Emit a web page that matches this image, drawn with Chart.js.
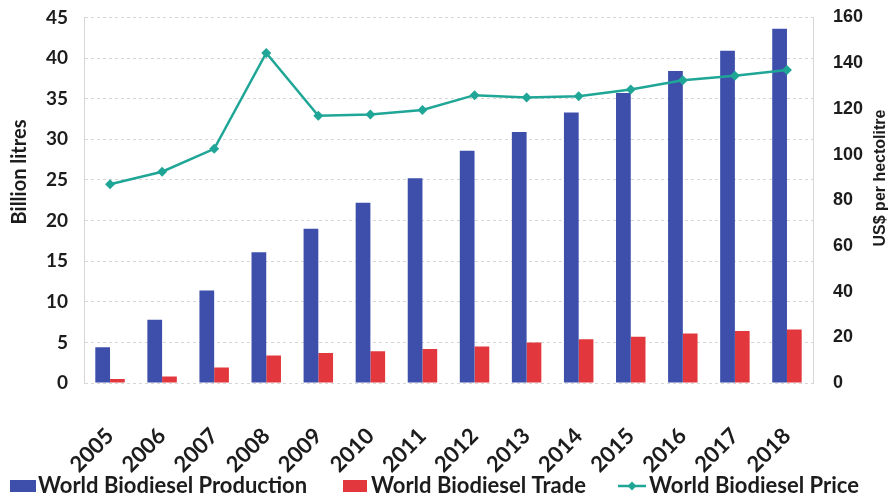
<!DOCTYPE html>
<html>
<head>
<meta charset="utf-8">
<script src="https://cdn.jsdelivr.net/npm/chart.js@4"></script>
<style>
  html, body { margin: 0; padding: 0; background: #ffffff; }
  #wrap { width: 893px; height: 501px; position: relative; }
</style>
</head>
<body>
<div id="wrap"><canvas id="chart"></canvas></div>
<script>
// Years on the category axis
const years = ['2005','2006','2007','2008','2009','2010','2011','2012','2013','2014','2015','2016','2017','2018'];
// World biodiesel production, billion litres
const production = [4.4, 7.8, 11.4, 16.1, 19.0, 22.2, 25.2, 28.6, 30.9, 33.3, 35.7, 38.4, 40.9, 43.6];
// World biodiesel trade, billion litres
const trade = [0.5, 0.8, 1.9, 3.4, 3.7, 3.9, 4.2, 4.5, 5.0, 5.4, 5.7, 6.1, 6.4, 6.6];
// World biodiesel price, US$ per hectolitre
const price = [87, 92.5, 102.5, 144.5, 117, 117.5, 119.5, 126, 125, 125.5, 128.5, 132.5, 134.5, 137];

const seriesNames = ['World Biodiesel Production', 'World Biodiesel Trade', 'World Biodiesel Price'];
const leftTitle = 'Billion litres';
const rightTitle = 'US$ per hectolitre';

const BLUE = '#3d4fab';
const RED = '#e2383d';
const TEAL = '#1fa696';
const TEXT = '#1c1c1c';
const GRID = '#d6d6d6';

// Axis titles (both read bottom-to-top) and the bottom legend
const decorations = {
  id: 'decorations',
  afterDraw(chart) {
    const ctx = chart.ctx;
    ctx.save();
    ctx.fillStyle = TEXT;
    ctx.textAlign = 'center';
    ctx.textBaseline = 'middle';

    ctx.save();
    ctx.translate(20, 172);
    ctx.rotate(-Math.PI / 2);
    ctx.font = 'bold 20px Lato';
    ctx.fillText(leftTitle, 0, 0);
    ctx.restore();

    ctx.save();
    ctx.translate(881, 178);
    ctx.rotate(-Math.PI / 2);
    ctx.font = 'bold 16px "Liberation Sans"';
    ctx.fillText(rightTitle, 0, 0);
    ctx.restore();

    // legend
    const base = 493;
    ctx.font = 'bold 22px Lato';
    ctx.textAlign = 'left';
    ctx.textBaseline = 'alphabetic';
    ctx.fillStyle = BLUE;
    ctx.fillRect(10, 480, 26, 12);
    ctx.fillStyle = TEXT;
    ctx.fillText(seriesNames[0], 38, base);

    ctx.fillStyle = RED;
    ctx.fillRect(343, 480, 24, 12);
    ctx.fillStyle = TEXT;
    ctx.fillText(seriesNames[1], 371, base);

    const ly = 486;
    ctx.strokeStyle = TEAL;
    ctx.lineWidth = 2.5;
    ctx.beginPath();
    ctx.moveTo(618, ly);
    ctx.lineTo(646, ly);
    ctx.stroke();
    ctx.fillStyle = TEAL;
    ctx.beginPath();
    ctx.moveTo(632, ly - 4.5);
    ctx.lineTo(636.5, ly);
    ctx.lineTo(632, ly + 4.5);
    ctx.lineTo(627.5, ly);
    ctx.closePath();
    ctx.fill();
    ctx.fillStyle = TEXT;
    ctx.fillText(seriesNames[2], 649, base);
    ctx.restore();
  }
};

// vertical axes: keep label overhang from pushing the plot area down
function fitVertical(width) {
  return function (s) {
    s.width = width;
    s.paddingTop = 0;
    s.paddingBottom = 0;
  };
}

new Chart(document.getElementById('chart'), {
  type: 'bar',
  data: {
    labels: years,
    datasets: [
      {
        label: seriesNames[0],
        data: production,
        backgroundColor: BLUE,
        yAxisID: 'y',
        order: 2,
        categoryPercentage: 0.566,
        barPercentage: 1.0
      },
      {
        label: seriesNames[1],
        data: trade,
        backgroundColor: RED,
        yAxisID: 'y',
        order: 2,
        categoryPercentage: 0.566,
        barPercentage: 1.0
      },
      {
        type: 'line',
        label: seriesNames[2],
        data: price,
        borderColor: TEAL,
        backgroundColor: TEAL,
        borderWidth: 2.5,
        pointStyle: 'rectRot',
        pointRadius: 5,
        pointBackgroundColor: TEAL,
        pointBorderWidth: 0,
        tension: 0,
        yAxisID: 'y2',
        order: 0
      }
    ]
  },
  options: {
    responsive: true,
    maintainAspectRatio: false,
    animation: false,
    layout: { padding: { top: 17.5, bottom: 0, left: 0, right: 0 } },
    plugins: {
      legend: { display: false },
      tooltip: { enabled: false }
    },
    scales: {
      x: {
        grid: { display: false },
        border: { display: false },
        ticks: {
          color: TEXT,
          font: { family: 'Lato', weight: 'bold', size: 22 },
          minRotation: 45,
          maxRotation: 45,
          padding: 32
        },
        afterFit(s) { s.height = 118; }
      },
      y: {
        position: 'left',
        min: 0,
        max: 45,
        ticks: {
          stepSize: 5,
          color: TEXT,
          font: { family: 'Lato', weight: 'bold', size: 19 },
          padding: 16
        },
        grid: { color: GRID, lineWidth: 1, drawTicks: false },
        border: { display: true, color: GRID, dash: [3, 3] },
        afterFit: fitVertical(84)
      },
      y2: {
        position: 'right',
        min: 0,
        max: 160,
        ticks: {
          stepSize: 20,
          color: TEXT,
          font: { family: 'Liberation Sans', weight: 'bold', size: 18 },
          padding: 20
        },
        grid: { display: false, drawTicks: false },
        border: { display: true, color: GRID, dash: [3, 3] },
        afterFit: fitVertical(80)
      }
    }
  },
  plugins: [decorations]
});
</script>
</body>
</html>
